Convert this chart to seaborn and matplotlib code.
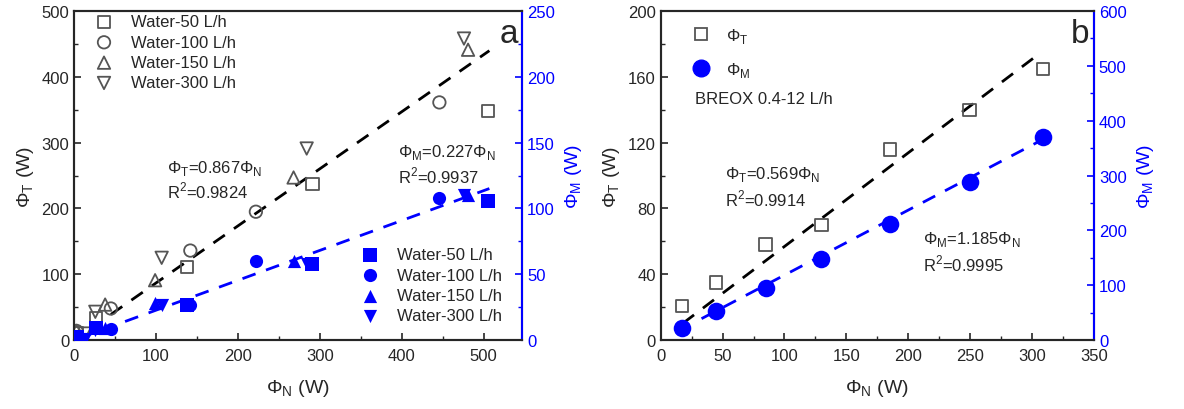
import numpy as np
import pandas as pd
import matplotlib
matplotlib.use("Agg")
import matplotlib.pyplot as plt
import seaborn as sns
from matplotlib.ticker import AutoMinorLocator

# ---- panel a: water at four flow rates ----
flows = ["Water-50 L/h", "Water-100 L/h", "Water-150 L/h", "Water-300 L/h"]
a_phiN = {
    "Water-50 L/h":  [4, 27, 138, 291, 505],
    "Water-100 L/h": [3, 45, 142, 222, 446],
    "Water-150 L/h": [3, 38, 99, 268, 481],
    "Water-300 L/h": [13, 26, 107, 284, 476],
}
a_phiT = {
    "Water-50 L/h":  [11, 34, 111, 237, 348],
    "Water-100 L/h": [14, 48, 136, 195, 361],
    "Water-150 L/h": [14, 54, 91, 247, 441],
    "Water-300 L/h": [10, 43, 125, 291, 458],
}
a_phiM = {
    "Water-50 L/h":  [2, 9, 27, 58, 106],
    "Water-100 L/h": [2, 8.6, 27, 60, 108],
    "Water-150 L/h": [2, 9, 28, 60, 110],
    "Water-300 L/h": [1, 8, 27, 58, 110],
}
a_slope_T, a_r2_T = 0.867, 0.9824
a_slope_M, a_r2_M = 0.227, 0.9937
a_fit_x_T = [45, 507]
a_fit_x_M = [5, 507]

# ---- panel b: BREOX ----
b_phiN = [17, 44.7, 84.8, 129.8, 185, 249.6, 308.8]
b_phiT = [20.7, 34.9, 58.2, 69.8, 115.8, 139.8, 164.7]
b_phiM = [22.5, 53, 95, 148, 212, 288, 371]
b_slope_T, b_r2_T = 0.569, 0.9914
b_slope_M, b_r2_M = 1.185, 0.9995
b_fit_x_T = [18, 306]
b_fit_x_M = [33, 309]

markers = {"Water-50 L/h": "s", "Water-100 L/h": "o",
           "Water-150 L/h": "^", "Water-300 L/h": "v"}
gray = "#555555"
blue = "#0000ff"

sns.set_style("ticks")
plt.rcParams["font.family"] = ["Liberation Sans", "DejaVu Sans"]
plt.rcParams["mathtext.fontset"] = "custom"
plt.rcParams["mathtext.rm"] = "Liberation Sans"
plt.rcParams["xtick.direction"] = "in"
plt.rcParams["ytick.direction"] = "in"

fig = plt.figure(figsize=(11.84, 4.10), dpi=100)
axa = fig.add_axes([0.0625, 0.168, 0.3785, 0.803])
axb = fig.add_axes([0.558, 0.168, 0.366, 0.803])


def style_axes(ax, ax2):
    for a in (ax, ax2):
        for sp in a.spines.values():
            sp.set_linewidth(1.5)
            sp.set_visible(True)
    ax2.spines["right"].set_color(blue)
    ax.xaxis.set_minor_locator(AutoMinorLocator(2))
    ax.yaxis.set_minor_locator(AutoMinorLocator(2))
    ax2.yaxis.set_minor_locator(AutoMinorLocator(2))
    ax.tick_params(which="major", length=5, width=1.2, labelsize=12, top=False, right=False)
    ax.tick_params(axis="x", which="major", pad=6)
    ax.tick_params(which="minor", length=3, width=1.0, top=False, right=False)
    ax2.tick_params(axis="y", which="major", length=5, width=1.2, labelsize=12,
                    colors=blue)
    ax2.tick_params(axis="y", which="minor", length=3, width=1.0, colors=blue)


def sub(sym, s):
    return sym + "$_\\mathregular{" + s + "}$"


# ---------- panel a ----------
axa2 = axa.twinx()
for f in flows:
    df = pd.DataFrame({"N": a_phiN[f], "T": a_phiT[f], "M": a_phiM[f]})
    sns.scatterplot(data=df, x="N", y="T", ax=axa, marker=markers[f], s=80,
                    facecolor="none", edgecolor=gray, linewidth=1.3, label=f,
                    zorder=3)
    sns.scatterplot(data=df, x="N", y="M", ax=axa2, marker=markers[f], s=90,
                    color=blue, edgecolor=blue, linewidth=0, label=f, zorder=3)

xt = np.array(a_fit_x_T)
axa.plot(xt, a_slope_T * xt, ls=(0, (5, 4)), color="black", lw=2)
xm = np.array(a_fit_x_M)
axa2.plot(xm, a_slope_M * xm, ls=(0, (5, 4)), color=blue, lw=2)

axa.set_xlim(0, 547)
axa.set_ylim(0, 500)
axa2.set_ylim(0, 250)
axa.set_xticks([0, 100, 200, 300, 400, 500])
axa.set_yticks([0, 100, 200, 300, 400, 500])
axa2.set_yticks([0, 50, 100, 150, 200, 250])
axa.set_xlabel(sub("Φ", "N") + " (W)", fontsize=14, labelpad=10)
axa.set_ylabel(sub("Φ", "T") + " (W)", fontsize=14)
axa2.set_ylabel(sub("Φ", "M") + " (W)", fontsize=14, color=blue, labelpad=6)
style_axes(axa, axa2)

axa.legend(loc="upper left", bbox_to_anchor=(0.0, 1.03), frameon=False,
           fontsize=12, handletextpad=0.6, labelspacing=0.32, borderpad=0.3)
axa2.legend(loc="lower right", bbox_to_anchor=(0.985, 0.01), frameon=False,
            fontsize=12, handletextpad=0.6, labelspacing=0.32, borderpad=0.3)

axa.text(113, 262, sub("Φ", "T") + "=0.867" + sub("Φ", "N"), fontsize=12, va="center")
axa.text(113, 228, "R$^\\mathregular{2}$=" + f"{a_r2_T:.4f}", fontsize=12, va="center")
axa.text(396, 287, sub("Φ", "M") + "=0.227" + sub("Φ", "N"), fontsize=12, va="center")
axa.text(396, 251, "R$^\\mathregular{2}$=" + f"{a_r2_M:.4f}", fontsize=12, va="center")
axa.text(0.99, 0.93, "a", transform=axa.transAxes, fontsize=24, ha="right", va="center")

# ---------- panel b ----------
axb2 = axb.twinx()
dfb = pd.DataFrame({"N": b_phiN, "T": b_phiT, "M": b_phiM})
sns.scatterplot(data=dfb, x="N", y="T", ax=axb, marker="s", s=80,
                facecolor="none", edgecolor=gray, linewidth=1.3, zorder=3)
sns.scatterplot(data=dfb, x="N", y="M", ax=axb2, marker="o", s=160,
                color=blue, edgecolor=blue, linewidth=0, zorder=3)

xt = np.array(b_fit_x_T)
axb.plot(xt, b_slope_T * xt, ls=(0, (5, 4)), color="black", lw=2)
xm = np.array(b_fit_x_M)
axb2.plot(xm, b_slope_M * xm, ls=(0, (5, 4)), color=blue, lw=2)

axb.set_xlim(0, 350)
axb.set_ylim(0, 200)
axb2.set_ylim(0, 600)
axb.set_xticks([0, 50, 100, 150, 200, 250, 300, 350])
axb.set_yticks([0, 40, 80, 120, 160, 200])
axb2.set_yticks([0, 100, 200, 300, 400, 500, 600])
axb.set_xlabel(sub("Φ", "N") + " (W)", fontsize=14, labelpad=10)
axb.set_ylabel(sub("Φ", "T") + " (W)", fontsize=14)
axb2.set_ylabel(sub("Φ", "M") + " (W)", fontsize=14, color=blue, labelpad=6)
style_axes(axb, axb2)

hT = plt.Line2D([], [], ls="none", marker="s", ms=9, mfc="none", mec=gray, mew=1.3)
hM = plt.Line2D([], [], ls="none", marker="o", ms=12, mfc=blue, mec=blue)
axb.legend([hT, hM], [sub("Φ", "T"), sub("Φ", "M")], loc="upper left",
           bbox_to_anchor=(0.02, 1.0), frameon=False, fontsize=12,
           handletextpad=0.5, labelspacing=0.9)

axb.text(27.7, 147, "BREOX 0.4-12 L/h", fontsize=12, va="center")
axb.text(52, 101, sub("Φ", "T") + "=0.569" + sub("Φ", "N"), fontsize=12, va="center")
axb.text(52, 86, "R$^\\mathregular{2}$=" + f"{b_r2_T:.4f}", fontsize=12, va="center")
axb.text(211.6, 62, sub("Φ", "M") + "=1.185" + sub("Φ", "N"), fontsize=12, va="center")
axb.text(211.6, 47, "R$^\\mathregular{2}$=" + f"{b_r2_M:.4f}", fontsize=12, va="center")
axb.text(0.99, 0.93, "b", transform=axb.transAxes, fontsize=24, ha="right", va="center")

fig.savefig("out.png", dpi=100)
